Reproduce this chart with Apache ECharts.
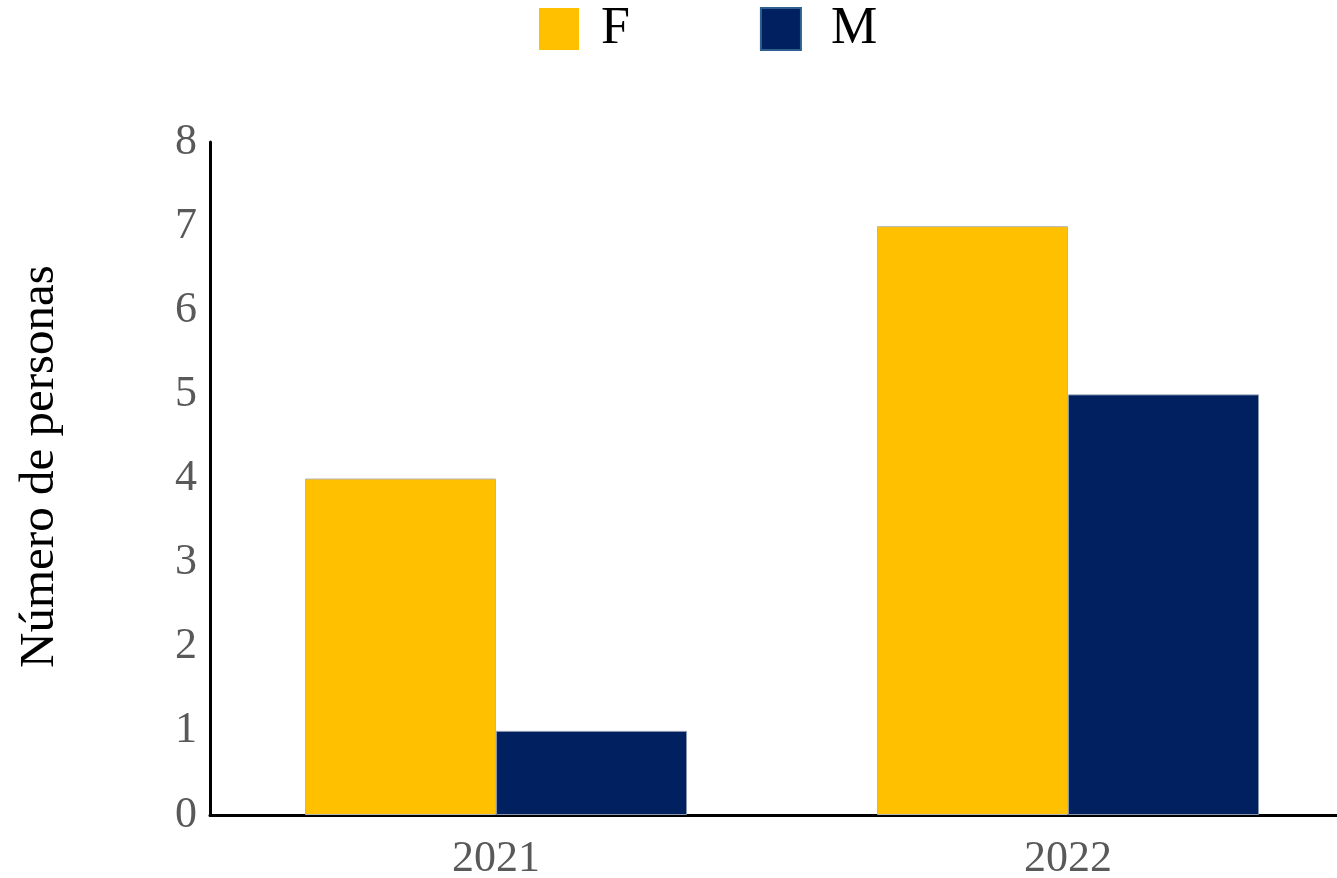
<!DOCTYPE html>
<html>
<head>
<meta charset="utf-8">
<script src="https://cdn.jsdelivr.net/npm/echarts@6/dist/echarts.min.js"></script>
<style>
    html, body { margin: 0; padding: 0; background: #fff; }
    #chart { width: 1337px; height: 878px; }
</style>
</head>
<body>
<div id="chart"></div>
<script>
// 数据
const years = ['2021', '2022']
const femenino = [4, 7]
const masculino = [1, 5]
const yTicks = [0, 8, 1] // min, max, interval

const FONT = '"Liberation Serif", "Times New Roman", serif'

const myChart = echarts.init(document.getElementById('chart'))

const option = {
    backgroundColor: '#fff',
    animation: false,
    legend: {
        top: -2,
        left: 534,
        itemWidth: 40,
        itemHeight: 42,
        itemGap: 130,
        icon: 'rect',
        textStyle: {
            fontFamily: FONT,
            fontSize: 52,
            color: '#000',
            padding: [0, 0, 0, 17]
        },
        data: [
            { name: 'F', itemStyle: { borderWidth: 0 } },
            {
                name: 'M',
                itemStyle: { borderColor: '#2f5f8f', borderWidth: 2 },
                textStyle: { padding: [0, 0, 0, 25] }
            }
        ]
    },
    grid: {
        left: 210,
        top: 142,
        bottom: 63,
        right: -17, // 坐标轴伸出画布右侧
        outerBoundsMode: 'none',
        containLabel: false
    },
    xAxis: {
        type: 'category',
        data: years,
        axisLine: { lineStyle: { color: '#000', width: 3 } },
        axisTick: { show: false },
        axisLabel: {
            fontFamily: FONT,
            fontSize: 44,
            color: '#595959',
            margin: 22
        }
    },
    yAxis: {
        type: 'value',
        min: yTicks[0],
        max: yTicks[1],
        interval: yTicks[2],
        name: 'Número de personas',
        nameLocation: 'middle',
        nameGap: 145,
        nameTextStyle: {
            fontFamily: FONT,
            fontSize: 49,
            color: '#000',
            padding: [0, 0, 0, 24]
        },
        axisLine: { show: true, lineStyle: { color: '#000', width: 3 } },
        axisTick: { show: false },
        splitLine: { show: false },
        axisLabel: {
            fontFamily: FONT,
            fontSize: 44,
            color: '#595959',
            margin: 13
        }
    },
    series: [
        {
            name: 'F',
            type: 'bar',
            data: femenino,
            barWidth: 191,
            barGap: '0%',
            itemStyle: { color: '#FFC000', borderColor: '#b5b5b5', borderWidth: 1 }
        },
        {
            name: 'M',
            type: 'bar',
            data: masculino,
            barWidth: 191,
            itemStyle: { color: '#002060', borderColor: '#8a96ad', borderWidth: 1 }
        }
    ]
}

myChart.setOption(option)
</script>
</body>
</html>
